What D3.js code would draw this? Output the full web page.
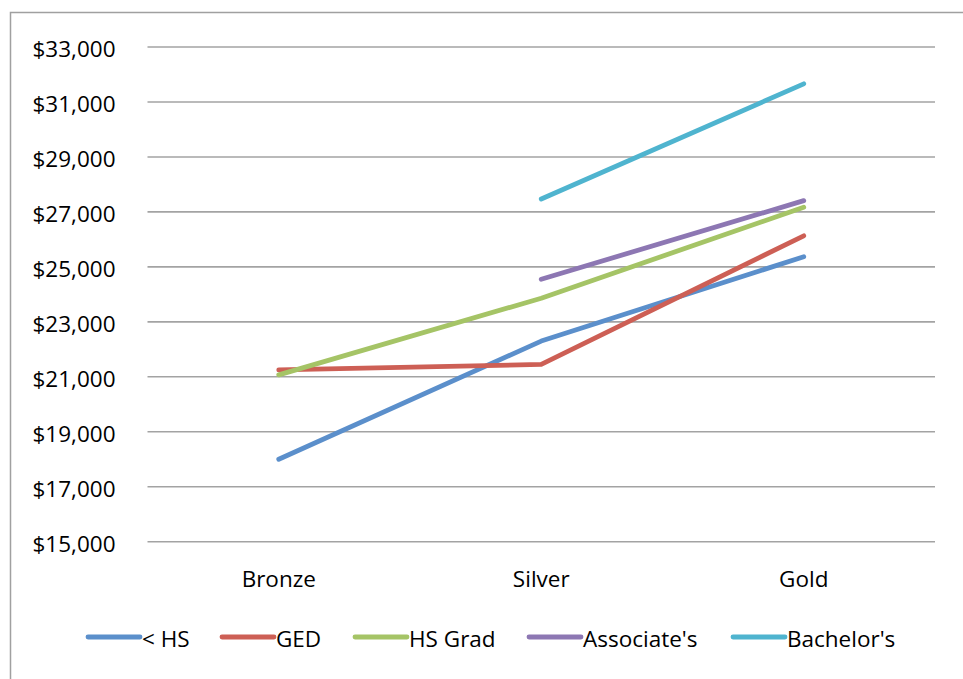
<!DOCTYPE html>
<html>
<head>
<meta charset="utf-8">
<script src="https://cdn.jsdelivr.net/npm/d3@7/dist/d3.min.js"></script>
<style>
  html, body { margin: 0; padding: 0; background: #fff; }
  svg { display: block; }
  text { font-family: "Open Sans", Lato, sans-serif; fill: #000; }
</style>
</head>
<body>
<svg id="chart" width="963" height="679"></svg>
<script>
// Chart data
const categories = ["Bronze", "Silver", "Gold"];
const seriesNames = ["< HS", "GED", "HS Grad", "Associate's", "Bachelor's"];
const lessHS     = [18000, 22300, 25370];
const ged        = [21250, 21450, 26130];
const hsGrad     = [21070, 23860, 27170];
const associates = [null, 24550, 27410];
const bachelors  = [null, 27470, 31660];
const yTicks = [15000, 17000, 19000, 21000, 23000, 25000, 27000, 29000, 31000, 33000];
const colors = ["#5B8FCB", "#CD5F55", "#A5C466", "#8D77B3", "#4FB4CF"];

const seriesValues = [lessHS, ged, hsGrad, associates, bachelors];
const FONT = "'Open Sans', Lato, sans-serif";
const FONT_SIZE = "22.5px";

const svg = d3.select("#chart");

// Chart area border
svg.append("path")
  .attr("d", "M10.5,690 V12.5 H975")
  .attr("fill", "none")
  .attr("stroke", "#A0A0A0")
  .attr("stroke-width", 1.5);

const x = d3.scaleBand().domain(categories).range([147.5, 935]);
const y = d3.scaleLinear().domain([15000, 33000]).range([541.7, 47]);

// Horizontal gridlines
svg.append("g")
  .selectAll("line")
  .data(yTicks)
  .join("line")
  .attr("x1", 147.5).attr("x2", 935)
  .attr("y1", d => y(d)).attr("y2", d => y(d))
  .attr("stroke", "#A3A3A3")
  .attr("stroke-width", 1.6);

// Y axis labels
const fmt = d => "$" + d3.format(",")(d);
const yAxis = d3.axisLeft(y).tickValues(yTicks).tickFormat(fmt).tickSize(0).tickPadding(32);
const gy = svg.append("g").attr("transform", "translate(147.5,0)").call(yAxis);
gy.select(".domain").remove();
gy.selectAll("text")
  .attr("dy", "0.44em")
  .style("font-family", FONT)
  .style("font-size", FONT_SIZE)
  .attr("fill", "#000");

// X axis labels
const xAxis = d3.axisBottom(x).tickSize(0).tickPadding(0);
const gx = svg.append("g").attr("transform", "translate(0,571)").call(xAxis);
gx.select(".domain").remove();
gx.selectAll("text")
  .style("font-family", FONT)
  .style("font-size", FONT_SIZE)
  .attr("fill", "#000");

// Series lines
const line = d3.line()
  .defined(d => d.v != null)
  .x(d => x(d.c) + x.bandwidth() / 2)
  .y(d => y(d.v));

svg.append("g")
  .selectAll("path")
  .data(seriesValues.map((vals, i) => ({ name: seriesNames[i], color: colors[i], pts: vals.map((v, j) => ({ c: categories[j], v })) })))
  .join("path")
  .attr("d", d => line(d.pts))
  .attr("fill", "none")
  .attr("stroke", d => d.color)
  .attr("stroke-width", 4.8)
  .attr("stroke-linecap", "round")
  .attr("stroke-linejoin", "round");

// Legend
const legendX = [86, 220, 353, 527, 731];
const legend = svg.append("g").attr("transform", "translate(0,637)");
seriesNames.forEach((name, i) => {
  const g = legend.append("g").attr("transform", `translate(${legendX[i]},0)`);
  g.append("line")
    .attr("x1", 2).attr("x2", 54)
    .attr("y1", 0).attr("y2", 0)
    .attr("stroke", colors[i])
    .attr("stroke-width", 4.8)
    .attr("stroke-linecap", "round");
  g.append("text")
    .attr("x", 56)
    .attr("y", 10)
    .style("font-family", FONT)
    .style("font-size", FONT_SIZE)
    .text(name);
});
</script>
</body>
</html>
